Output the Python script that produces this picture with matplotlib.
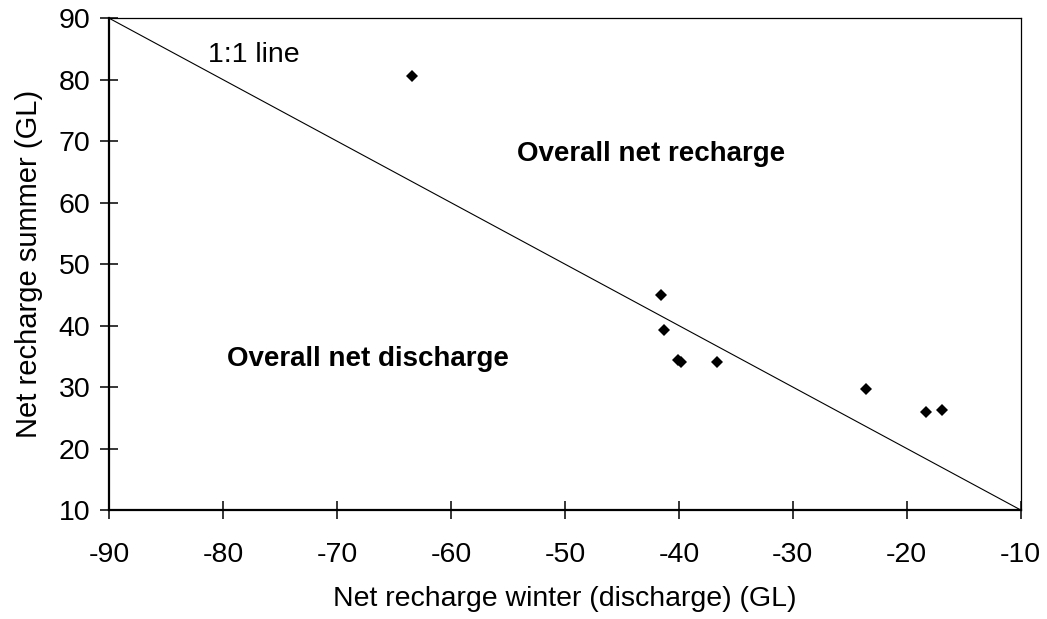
import matplotlib
matplotlib.use("Agg")
import matplotlib.pyplot as plt

plt.rcParams['font.family'] = ['Liberation Sans', 'DejaVu Sans']
plt.rcParams['axes.unicode_minus'] = False

# Data
winter = [-63.4, -41.6, -41.3, -40.1, -39.8, -36.7, -23.6, -18.3, -16.9]
summer = [80.6, 45.0, 39.3, 34.4, 34.1, 34.0, 29.7, 25.9, 26.3]

x_ticks = [-90, -80, -70, -60, -50, -40, -30, -20, -10]
y_ticks = [10, 20, 30, 40, 50, 60, 70, 80, 90]

one_to_one_x = [-90, -10]
one_to_one_y = [-v for v in one_to_one_x]

fig = plt.figure(figsize=(10.47, 6.19), dpi=100)
ax = fig.add_axes([0.1044, 0.1761, 0.9749 - 0.1044, 0.9704 - 0.1761])

ax.plot(one_to_one_x, one_to_one_y, color='black', lw=0.8, zorder=2)
ax.plot(winter, summer, linestyle='none', marker='D', ms=6.6, color='black',
        markeredgewidth=0, zorder=3)

ax.set_xlim(-90, -10)
ax.set_ylim(10, 90)
ax.set_xticks(x_ticks)
ax.set_yticks(y_ticks)

fs = 20.5
ax.tick_params(axis='both', direction='inout', length=13.5, width=1.1,
               labelsize=fs, colors='black')
ax.tick_params(axis='x', pad=16)
ax.tick_params(axis='y', pad=7)

for side in ['left', 'bottom']:
    ax.spines[side].set_linewidth(1.6)
for side in ['top', 'right']:
    ax.spines[side].set_linewidth(0.9)

ax.set_xlabel('Net recharge winter (discharge) (GL)', fontsize=fs, labelpad=13)
ax.set_ylabel('Net recharge summer (GL)', fontsize=21, labelpad=11)

ax.text(-81.3, 84.0, '1:1 line', fontsize=fs, va='center', ha='left')
ax.text(-54.2, 68.0, 'Overall net recharge', fontsize=20, fontweight='bold',
        va='center', ha='left')
ax.text(-79.7, 34.6, 'Overall net discharge', fontsize=20, fontweight='bold',
        va='center', ha='left')

fig.savefig('out.png', dpi=100)
